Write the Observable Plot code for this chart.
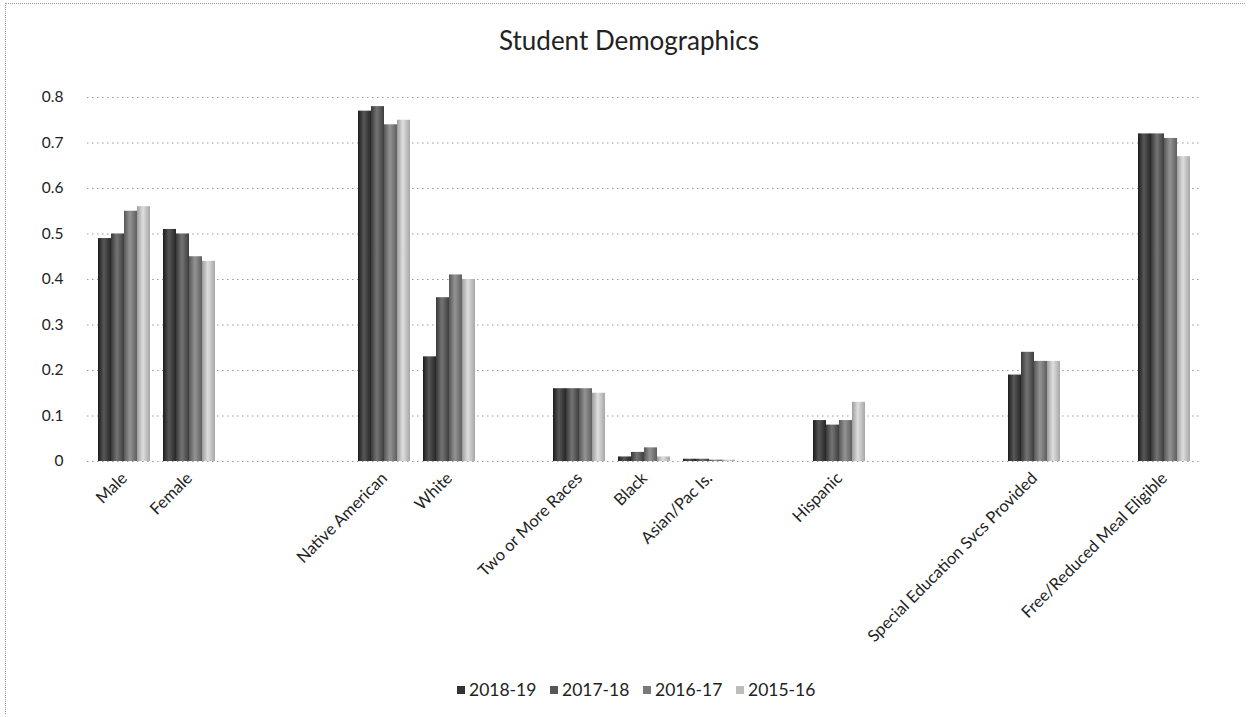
<!DOCTYPE html>
<html>
<head>
<meta charset="utf-8">
<script src="https://cdn.jsdelivr.net/npm/d3@7"></script>
<script src="https://cdn.jsdelivr.net/npm/@observablehq/plot@0.6"></script>
<style>
  html, body { margin: 0; padding: 0; background: #fff; }
  body { width: 1248px; height: 717px; position: relative; overflow: hidden; font-family: Lato, "Open Sans", sans-serif; color: #222; }
  #frame { position: absolute; left: 5px; top: 3px; width: 1240px; height: 711px; border-left: 1px dotted #999; border-top: 1px dotted #999; box-sizing: border-box; }
  #title { position: absolute; left: 0; top: 25px; width: 1258px; text-align: center; font-size: 26px; line-height: 30px; color: #222; }
  #chart { position: absolute; left: 0; top: 70px; }
  #legend { position: absolute; left: 457px; top: 679px; display: flex; font-size: 17.5px; line-height: 22px; color: #222; }
  #legend .item { display: flex; align-items: center; width: 93px; }
  #legend .sw { width: 8px; height: 8px; margin-right: 4px; }
</style>
</head>
<body>
<div id="frame"></div>
<div id="title">Student Demographics</div>
<div id="chart"></div>
<div id="legend"></div>
<script>
// x slots: real categories plus empty spacer slots (names starting with "_")
const slots = ["Male", "Female", "_1", "_2", "Native American", "White", "_3",
  "Two or More Races", "Black", "Asian/Pac Is.", "_4", "Hispanic", "_5", "_6",
  "Special Education Svcs Provided", "_7", "Free/Reduced Meal Eligible"];
const groups = ["Male", "Female", "Native American", "White", "Two or More Races",
  "Black", "Asian/Pac Is.", "Hispanic", "Special Education Svcs Provided", "Free/Reduced Meal Eligible"];
const series = ["2018-19", "2017-18", "2016-17", "2015-16"];
const v2018_19 = [0.49, 0.51, 0.77, 0.23, 0.16, 0.010, 0.005, 0.09, 0.19, 0.72];
const v2017_18 = [0.50, 0.50, 0.78, 0.36, 0.16, 0.020, 0.005, 0.08, 0.24, 0.72];
const v2016_17 = [0.55, 0.45, 0.74, 0.41, 0.16, 0.030, 0.003, 0.09, 0.22, 0.71];
const v2015_16 = [0.56, 0.44, 0.75, 0.40, 0.15, 0.010, 0.003, 0.13, 0.22, 0.67];
const yTicks = [0, 0.1, 0.2, 0.3, 0.4, 0.5, 0.6, 0.7, 0.8];

const seriesValues = [v2018_19, v2017_18, v2016_17, v2015_16];
const swatch = ["#333333", "#575757", "#7a7a7a", "#bdbdbd"];
const grads = [
  ["#1c1c1c", "#575757", "#262626"],
  ["#383838", "#747474", "#3e3e3e"],
  ["#575757", "#949494", "#5e5e5e"],
  ["#9c9c9c", "#dedede", "#a6a6a6"]
];

const W = 1248, H = 580;
const ML = 87, MR = 48, MT = 27, MB = 189;
const xOpts = {domain: slots, paddingInner: 0.2, paddingOuter: 0.1};

function build(bandwidth) {
  const sub = bandwidth / series.length;
  const marks = [
    Plot.ruleY(yTicks, {stroke: "#9a9a9a", strokeDasharray: "1.5,3.5", strokeWidth: 1})
  ];
  series.forEach((s, i) => {
    const rows = groups.map((g, j) => ({category: g, series: s, value: seriesValues[i][j]}));
    marks.push(Plot.barY(rows, {
      x: "category", y: "value",
      fill: `url(#grad${i})`,
      insetLeft: i * sub, insetRight: (series.length - 1 - i) * sub
    }));
  });
  marks.push(Plot.axisY({ticks: yTicks, tickSize: 0, tickPadding: 24, fontSize: 15.5,
    tickFormat: d => d === 0 ? "0" : d.toFixed(1), label: null}));
  marks.push(Plot.axisX({tickRotate: -45, tickSize: 0, tickPadding: 14, fontSize: 16.5,
    tickFormat: d => d.startsWith("_") ? "" : d, label: null}));
  return Plot.plot({
    width: W, height: H,
    marginLeft: ML, marginRight: MR, marginTop: MT, marginBottom: MB,
    style: {fontFamily: "Lato, 'Open Sans', sans-serif", color: "#222", background: "transparent"},
    x: xOpts,
    y: {domain: [0, 0.8]},
    marks
  });
}

const probe = build(50);
const bw = probe.scale("x").bandwidth;
const chart = build(bw);

// gradient definitions for cylinder-like shading
const svg = d3.select(chart);
const defs = svg.insert("defs", ":first-child");
grads.forEach((g, i) => {
  const lg = defs.append("linearGradient").attr("id", `grad${i}`)
    .attr("x1", "0").attr("x2", "1").attr("y1", "0").attr("y2", "0");
  lg.append("stop").attr("offset", "0%").attr("stop-color", g[0]);
  lg.append("stop").attr("offset", "45%").attr("stop-color", g[1]);
  lg.append("stop").attr("offset", "100%").attr("stop-color", g[2]);
});
document.getElementById("chart").appendChild(chart);

const legend = d3.select("#legend");
series.forEach((s, i) => {
  const it = legend.append("div").attr("class", "item");
  it.append("div").attr("class", "sw").style("background", swatch[i]);
  it.append("span").text(s);
});
</script>
</body>
</html>
